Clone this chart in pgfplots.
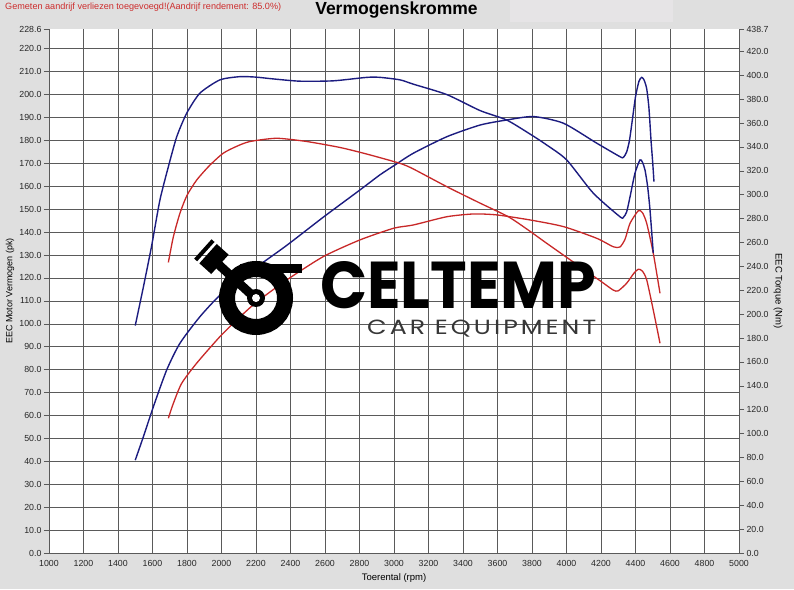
\documentclass[border=0pt]{standalone}
\usepackage{pgfplots}
\pgfplotsset{compat=1.18}
\usepackage{fontspec}
\setmainfont{Liberation Sans}
\newfontfamily\logofont{Poppins}
\usepackage{graphicx}
\definecolor{bgray}{RGB}{223,223,223}
\definecolor{tbox}{RGB}{230,228,230}
\definecolor{redtxt}{RGB}{205,45,45}
\definecolor{pblue}{RGB}{28,28,128}
\definecolor{pred}{RGB}{200,40,40}
\definecolor{gridc}{RGB}{90,90,90}
\definecolor{logogray}{RGB}{55,55,55}

\pgfplotstableread{
rpm pk
1500 40.5
1547 50.7
1605 63.8
1682 79.8
1759 91.5
1875 103.1
1991 112.5
2107 119.5
2204 124.8
2378 134.2
2590 146.5
2803 158.4
2919 165.0
3000 169.0
3112 174.4
3306 181.6
3499 186.7
3653 188.9
3808 190.4
3982 187.5
4175 178.8
4310 172.9
4330 172.6
4349 175.0
4365 180.0
4380 188.0
4400 199.0
4420 205.8
4436 207.5
4450 206.3
4465 202.5
4478 194.0
4490 180.0
4500 170.0
4507 162.0
}\bluepower

\pgfplotstableread{
rpm nm
1500 190.4
1547 222.6
1595 257.2
1643 295.5
1692 323.4
1740 348.3
1798 368.1
1875 385.0
1991 396.1
2107 398.8
2200 398.4
2300 396.9
2455 395.0
2648 395.3
2842 398.2
2919 398.2
3035 396.1
3112 392.5
3306 383.8
3499 370.4
3653 362.5
3788 350.8
3885 341.6
4001 329.1
4155 301.3
4310 281.5
4330 281.1
4349 285.7
4370 299.4
4397 318.0
4426 329.1
4440 327.2
4455 320.7
4470 307.1
4484 287.3
4503 251.0
}\bluetorque

\pgfplotstableread{
rpm pk
1692 58.8
1721 65.3
1769 74.0
1856 82.8
1991 94.4
2100 102.5
2204 109.5
2378 119.1
2590 129.3
2803 136.6
2999 141.7
3112 143.1
3306 146.7
3460 147.9
3595 147.5
3788 145.3
3982 142.4
4175 137.3
4271 133.6
4310 133.5
4340 137.0
4368 143.8
4416 149.3
4440 148.5
4465 143.8
4503 130.8
4542 113.3
}\redpower

\pgfplotstableread{
rpm nm
1692 243.3
1721 264.8
1759 284.4
1800 299.4
1856 312.2
1930 324.3
2010 334.7
2090 340.6
2165 344.5
2320 347.2
2494 344.5
2687 339.5
2842 334.0
3035 326.2
3112 321.5
3306 306.7
3499 292.9
3663 281.5
3780 270.2
3885 259.3
4078 239.7
4200 227.4
4271 220.1
4300 219.5
4349 225.9
4390 234.1
4416 237.6
4440 236.0
4465 228.6
4503 203.4
4542 175.6
}\redtorque

\begin{document}
\begin{tikzpicture}[x=1pt,y=1pt]
\fill[bgray] (0,0) rectangle (794,589);
\useasboundingbox (0,0) rectangle (794,589);
\fill[tbox] (510,567) rectangle (673,589);
\node[anchor=west, text=redtxt, font=\fontsize{9.1}{11}\selectfont, inner sep=0] at (5,582) {Gemeten aandrijf verliezen toegevoegd!(Aandrijf rendement: 85.0\%)};
\node[font=\fontsize{17.5}{20}\selectfont\bfseries, inner sep=0] at (396.5,579) {Vermogenskromme};

\begin{axis}[
  at={(49pt,36pt)}, anchor=south west, scale only axis,
  width=690pt, height=524pt,
  xmin=1000, xmax=5000, ymin=0, ymax=228.6,
  xtick={1000,1200,...,5000},
  ytick={0,10,...,220},
  extra y ticks={228.6},
  extra tick style={grid=none},
  xtick pos=bottom, ytick pos=left,
  grid=major,
  grid style={gridc, line width=0.55pt},
  axis line style={draw=none},
  axis background/.style={fill=white},
  tick align=outside,
  major tick length=5pt,
  tick style={black!65, line width=0.5pt},
  xtick style={draw=none},
  /pgf/number format/assume math mode=true,
  tick label style={font=\fontsize{8.8}{10}\selectfont, text=black!85},
  yticklabel style={/pgf/number format/fixed, /pgf/number format/fixed zerofill, /pgf/number format/precision=1, xshift=1pt},
  xticklabel style={/pgf/number format/1000 sep={}, yshift=1pt},
  xlabel={Toerental (rpm)},
  xlabel style={at={(axis description cs:0.5,-0.0477)}, anchor=center, font=\fontsize{9.5}{11}\selectfont},
  ylabel={EEC Motor Vermogen (pk)},
  ylabel style={at={(axis description cs:-0.0565,0.5)}, anchor=center, font=\fontsize{9}{11}\selectfont},
]
\addplot[pblue, line width=1.4pt, smooth, tension=0.4] table[x=rpm, y=pk] {\bluepower};
\addplot[pred, line width=1.3pt, smooth, tension=0.4] table[x=rpm, y=pk] {\redpower};
\end{axis}

\begin{axis}[
  at={(49pt,36pt)}, anchor=south west, scale only axis,
  width=690pt, height=524pt,
  xmin=1000, xmax=5000, ymin=0, ymax=438.7,
  hide x axis,
  axis y line*=right,
  axis line style={draw=none},
  ytick={0,20,...,420},
  extra y ticks={438.7},
  tick align=outside,
  major tick length=5pt,
  tick style={black!65, line width=0.5pt},
  /pgf/number format/assume math mode=true,
  tick label style={font=\fontsize{8.8}{10}\selectfont, text=black!85},
  yticklabel style={/pgf/number format/fixed, /pgf/number format/fixed zerofill, /pgf/number format/precision=1, xshift=-1pt},
  ylabel={EEC Torque (Nm)},
  ylabel style={at={(axis description cs:1.0565,0.5)}, anchor=center, rotate=180, font=\fontsize{9.5}{11}\selectfont},
]
\addplot[pblue, line width=1.4pt, smooth, tension=0.4] table[x=rpm, y=nm] {\bluetorque};
\addplot[pred, line width=1.3pt, smooth, tension=0.4] table[x=rpm, y=nm] {\redtorque};
\end{axis}

% watermark logo
\draw[black, line width=16pt] (256,291) circle (29);
\fill[black] (240,316) rectangle (302,325);
\draw[black, line width=9pt] (218,325) -- (254,292);
\fill[black] (256,291) circle (9);
\fill[white] (256,291) circle (4);
\begin{scope}[shift={(214,330)}, rotate=-42]
  \fill[black] (-8,-13) rectangle (8,13);
  \fill[black] (-15,-13) rectangle (-11,13);
\end{scope}
\node[anchor=base west, inner sep=0] at (320,280) {\resizebox{276pt}{47pt}{\logofont\bfseries CELTEMP}};
\node[anchor=base west, inner sep=0, text=logogray] at (367,254) {\resizebox{229pt}{14.5pt}{\logofont\addfontfeatures{LetterSpace=12}CAR EQUIPMENT}};
\end{tikzpicture}
\end{document}
